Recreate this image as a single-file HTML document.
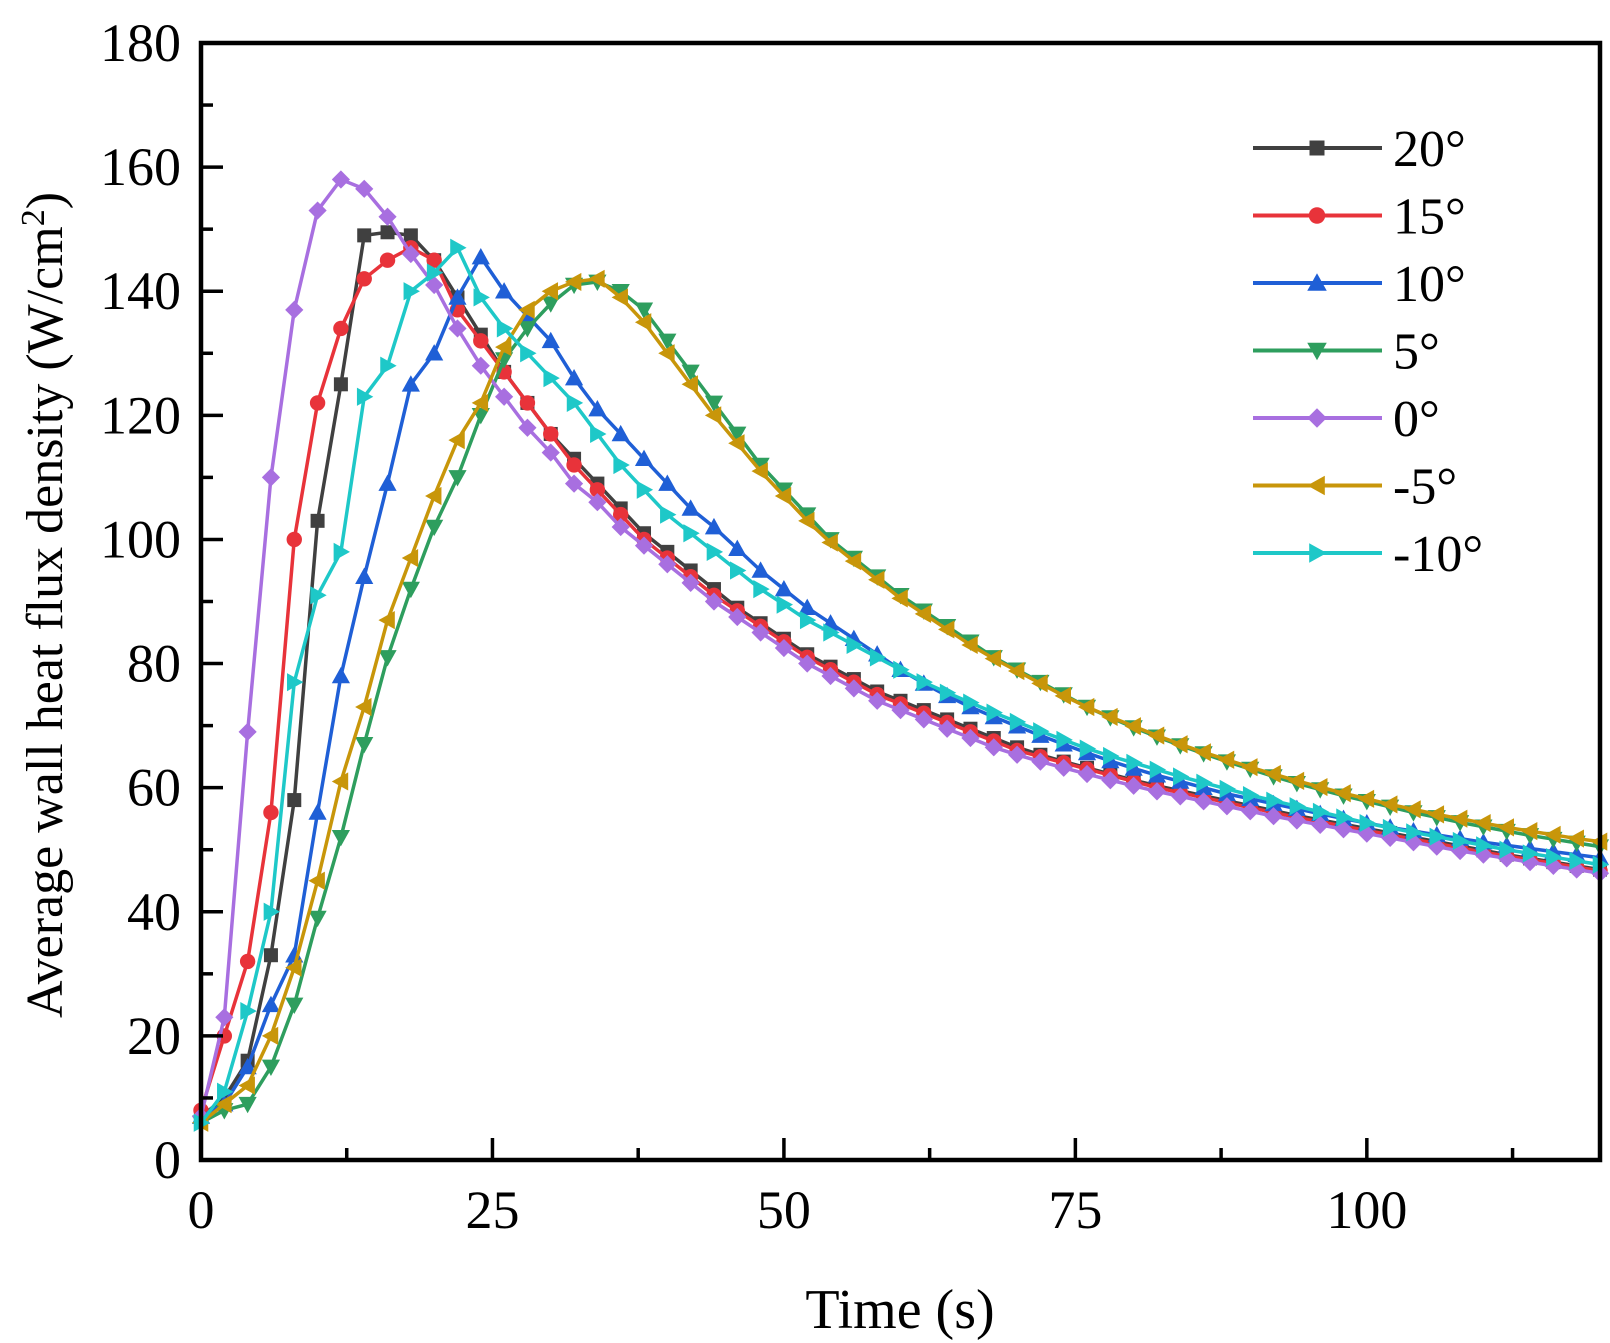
<!DOCTYPE html>
<html><head><meta charset="utf-8"><style>
html,body{margin:0;padding:0;background:#fff;}
svg{display:block;font-family:"Liberation Serif",serif;}
</style></head><body>
<svg id="chart" width="1610" height="1343" viewBox="0 0 1610 1343" xmlns="http://www.w3.org/2000/svg"></svg>
<script>
const times = [];
for (let t = 0; t <= 120; t += 2) times.push(t);
const seriesNames = ["20°","15°","10°","5°","0°","-5°","-10°"];
const xTicks = [0,25,50,75,100];
const yTicks = [0,20,40,60,80,100,120,140,160,180];
const s20 = [7,10,16,33,58,103,125,149,149.5,149,145,139,133,127,122,117,113,109,105,101,98,95,92,89,86.5,84,81.5,79.5,77.5,75.5,74,72.5,71,69.5,68,66.5,65.3,64.2,63.2,62.2,61.2,60.3,59.5,58.7,57.9,57.1,56.3,55.5,54.8,54.1,53.4,52.7,52,51.3,50.6,49.9,49.2,48.6,48,47.4,46.8];
const s15 = [8,20,32,56,100,122,134,142,145,147,145,137,132,127,122,117,112,108,104,100,97,94,91,88.5,86,83.5,81,79,77,75,73.5,72,70.5,69,67.5,66,65,64,63,62,61,60,59.2,58.4,57.6,56.8,56,55.2,54.5,53.8,53.1,52.4,51.7,51,50.3,49.6,49,48.4,47.8,47.2,46.6];
const s10 = [7,9,15,25,33,56,78,94,109,125,130,139,145.5,140,136,132,126,121,117,113,109,105,102,98.5,95,92,89,86.5,84,81.5,79,76.8,74.8,73,71.4,69.9,68.4,67,65.6,64.3,63.1,62,61,60,59,58.2,57.4,56.6,55.8,55,54.3,53.6,53,52.4,51.8,51.2,50.7,50.2,49.7,49.2,48.7];
const s5 = [6,8,9,15,25,39,52,67,81,92,102,110,120,129,134,138,141,141.5,140,137,132,127,122,117,112,108,104,100,97,94,91,88.5,86,83.5,81,79,77,75,73,71.3,69.7,68.2,66.8,65.5,64.2,63,61.8,60.7,59.7,58.7,57.8,56.9,56,55.2,54.4,53.7,53,52.3,51.7,51.1,50.5];
const s0 = [7,23,69,110,137,153,158,156.5,152,146,141,134,128,123,118,114,109,106,102,99,96,93,90,87.5,85,82.5,80,78,76,74,72.5,71,69.5,68,66.5,65.3,64.2,63.2,62.2,61.2,60.3,59.4,58.6,57.8,57,56.2,55.4,54.7,54,53.3,52.6,51.9,51.2,50.5,49.8,49.2,48.6,48,47.4,46.8,46.2];
const sm5 = [6,9,12,20,31,45,61,73,87,97,107,116,122,131,137,140,141.5,142,139,135,130,125,120,115.5,111,107,103,99.5,96.5,93.5,90.5,88,85.5,83,80.8,78.8,76.8,74.8,73,71.4,69.9,68.4,67,65.7,64.5,63.3,62.2,61.1,60.1,59.1,58.2,57.3,56.5,55.7,55,54.3,53.6,53,52.4,51.8,51.3];
const sm10 = [6,11,24,40,77,91,98,123,128,140,143,147,139,134,130,126,122,117,112,108,104,101,98,95,92,89.5,87,85,83,81,79,77,75.3,73.7,72.1,70.6,69.1,67.7,66.3,65.1,64,62.9,61.8,60.8,59.8,58.8,57.9,57,56.1,55.2,54.3,53.5,52.8,52.1,51.4,50.7,50,49.4,48.8,48.2,47.6];

const NS="http://www.w3.org/2000/svg";
const svg=document.getElementById('chart');
const L=201,R=1600,T=43,B=1160;
const X=v=>L+(v/120)*(R-L);
const Y=v=>B-(v/180)*(B-T);
function mk(tag,attrs,parent){const e=document.createElementNS(NS,tag);for(const k in attrs)e.setAttribute(k,attrs[k]);(parent||svg).appendChild(e);return e;}

const series=[
 {d:s20,c:"#404040",m:"square"},
 {d:s15,c:"#e8333a",m:"circle"},
 {d:s10,c:"#1f5fd6",m:"up"},
 {d:s5,c:"#2e9e5e",m:"down"},
 {d:s0,c:"#a86fe0",m:"diamond"},
 {d:sm5,c:"#c8960a",m:"left"},
 {d:sm10,c:"#1ec8c8",m:"right"}
];
function marker(g,type,x,y,c,s){
  let e;
  if(type==="square") e=mk('rect',{x:x-s,y:y-s,width:2*s,height:2*s,fill:c},g);
  else if(type==="circle") e=mk('circle',{cx:x,cy:y,r:s*1.1,fill:c},g);
  else {
    let p;
    const k=s*1.3;
    if(type==="up") p=[[x,y-k],[x+k,y+k*0.8],[x-k,y+k*0.8]];
    if(type==="down") p=[[x,y+k],[x+k,y-k*0.8],[x-k,y-k*0.8]];
    if(type==="left") p=[[x-k,y],[x+k*0.8,y-k],[x+k*0.8,y+k]];
    if(type==="right") p=[[x+k,y],[x-k*0.8,y-k],[x-k*0.8,y+k]];
    if(type==="diamond") p=[[x,y-k],[x+k,y],[x,y+k],[x-k,y]];
    e=mk('polygon',{points:p.map(q=>q.join(',')).join(' '),fill:c},g);
  }
  
  
}

series.forEach((s,i)=>{
  const g=mk('g',{});
  
  
  const pts=s.d.map((v,j)=>X(times[j])+','+Y(v)).join(' ');
  const pl=mk('polyline',{points:pts,fill:'none',stroke:s.c,'stroke-width':3.5,'stroke-linejoin':'round'},g);
  
  
  s.d.forEach((v,j)=>marker(g,s.m,X(times[j]),Y(v),s.c,7));
});

const frame=mk('rect',{x:L,y:T,width:R-L,height:B-T,fill:'none',stroke:'#000','stroke-width':4.5});



for(let v=0;v<=120;v+=12.5){
  const major=(v%25===0);
  const t=mk('line',{x1:X(v),x2:X(v),y1:B,y2:B-(major?22:12),stroke:'#000','stroke-width':3.5});
  
  
}
xTicks.forEach(v=>{
  const t=mk('text',{x:X(v),y:B+68,'text-anchor':'middle','font-size':54,fill:'#000'});
  t.textContent=v;
  
  
});
for(let v=0;v<=180;v+=10){
  const major=(v%20===0);
  const t=mk('line',{x1:L,x2:L+(major?22:12),y1:Y(v),y2:Y(v),stroke:'#000','stroke-width':3.5});
  
  
}
yTicks.forEach(v=>{
  const t=mk('text',{x:L-20,y:Y(v)+18,'text-anchor':'end','font-size':54,fill:'#000'});
  t.textContent=v;
  
  
});

const xt=mk('text',{x:900,y:1328,'text-anchor':'middle','font-size':56,fill:'#000'});
xt.textContent='Time (s)';


const yt=mk('text',{x:0,y:0,'text-anchor':'middle','font-size':52,fill:'#000',transform:'translate(62,605) rotate(-90)'});
yt.innerHTML='Average wall heat flux density (W/cm<tspan dy="-18" font-size="34">2</tspan><tspan dy="18">)</tspan>';



const lg=mk('g',{});


series.forEach((s,i)=>{
  const y=148+i*67.5;
  const e=mk('g',{},lg);
  
  
  mk('line',{x1:1253,x2:1382,y1:y,y2:y,stroke:s.c,'stroke-width':4},e);
  marker(e,s.m,1317,y,s.c,7.5);
  const t=mk('text',{x:1393,y:y+18,'font-size':52,fill:'#000'},e);
  t.textContent=seriesNames[i];
});
</script>
</body></html>
